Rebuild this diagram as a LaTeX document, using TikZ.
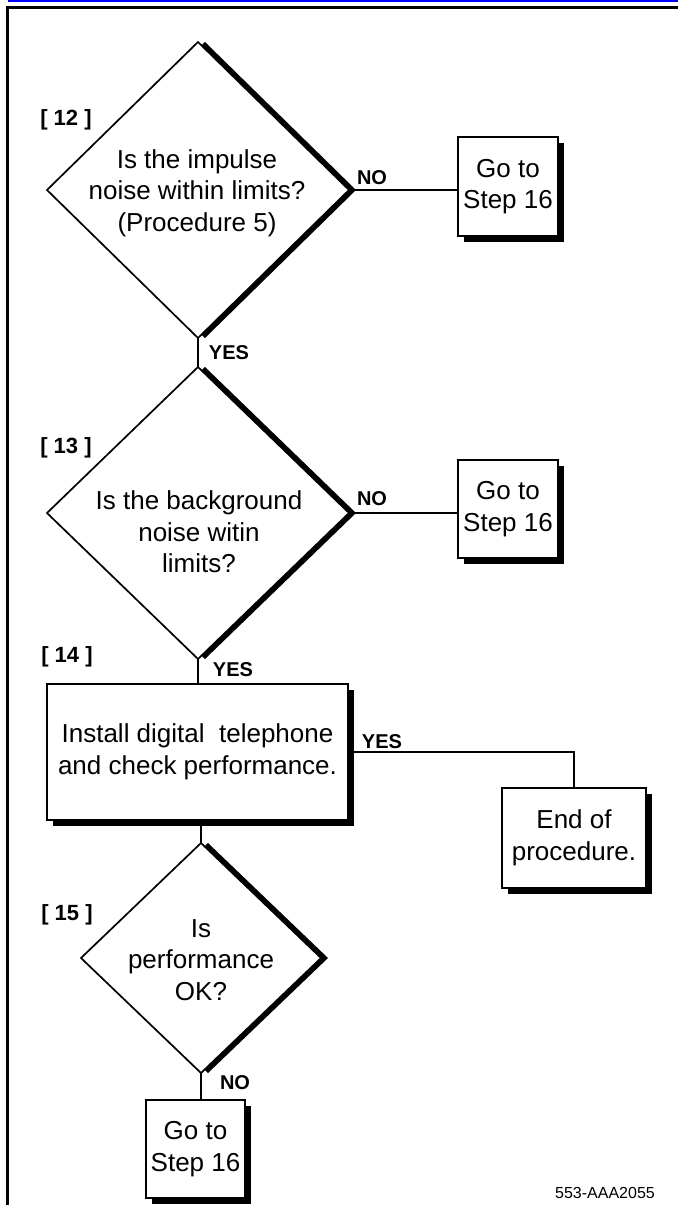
\documentclass[tikz,border=0pt]{standalone}
\usepackage{fontspec}
\setmainfont{Liberation Sans}
\usetikzlibrary{shapes.geometric,shadows}
\begin{document}
\begin{tikzpicture}[x=1pt,y=-1pt,
  every node/.style={inner sep=0pt, outer sep=0pt},
  dia/.style={shape=diamond, draw=black, line width=1.7pt, fill=white,
    drop shadow={shadow xshift=7pt, shadow yshift=0pt, fill=black, opacity=1}},
  stepbox/.style={shape=rectangle, draw=black, line width=1.7pt, fill=white,
    drop shadow={shadow xshift=6pt, shadow yshift=-6pt, fill=black, opacity=1}},
  txt/.style={font=\fontsize{26}{31.5}\selectfont, align=center},
  lab/.style={font=\fontsize{20}{24}\selectfont\bfseries},
  num/.style={font=\fontsize{22}{24}\selectfont\bfseries},
  conn/.style={line width=1.7pt}]
\useasboundingbox (0,0) rectangle (678,1228);
% frame
\fill[blue] (8,0) rectangle (678,2.5);
\fill[black] (6,6) rectangle (678,9);
\fill[black] (6,6) rectangle (9,1205);

% diamonds
\node[dia, minimum width=302pt, minimum height=296pt] (d1) at (198,190) {};
\node[dia, minimum width=302pt, minimum height=292pt] (d2) at (198,513) {};
\node[dia, minimum width=240pt, minimum height=230pt] (d4) at (201,958) {};

\node[txt] (t1) at (197,193) {Is the impulse\\noise within limits?\\(Procedure 5)};
\node[txt] (t2) at (199,532) {Is the background\\noise witin\\limits?};
\node[txt] (t4) at (201,960) {Is\\performance\\OK?};

% boxes
\node[stepbox, minimum width=100pt, minimum height=99pt, txt] (g1) at (508,186.5) {Go to\\Step 16};
\node[stepbox, minimum width=100pt, minimum height=98pt, txt] (g2) at (508,509) {Go to\\Step 16};
\node[stepbox, minimum width=301pt, minimum height=136pt, txt] (b3) at (197.5,752) {Install digital\ \ telephone\\and check performance.};
\node[stepbox, minimum width=144pt, minimum height=100pt, txt] (e) at (574,838) {End of\\procedure.};
\node[stepbox, minimum width=99pt, minimum height=98pt, txt] (g5) at (195.5,1149) {Go to\\Step 16};

% connectors
\draw[conn] (d1.east) -- (d1.east -| g1.west);
\draw[conn] (d1.south) -- (d2.north);
\draw[conn] (d2.east) -- (d2.east -| g2.west);
\draw[conn] (d2.south) -- (d2.south |- b3.north);
\draw[conn] (b3.east) -| (e.north);
\draw[conn] (b3.south -| d4.north) -- (d4.north);
\draw[conn] (d4.south) -- (d4.south |- g5.north);

% labels
\node[lab] (l1) at (372,178) {NO};
\node[lab] (l2) at (229,353) {YES};
\node[lab] (l3) at (372,499) {NO};
\node[lab] (l4) at (233,670) {YES};
\node[lab] (l5) at (382,742) {YES};
\node[lab] (l6) at (235,1083) {NO};

\node[num] (n12) at (66,120) {[ 12 ]};
\node[num] (n13) at (66,448) {[ 13 ]};
\node[num] (n14) at (67,657) {[ 14 ]};
\node[num] (n15) at (67,915) {[ 15 ]};

\node[font=\fontsize{16}{18}\selectfont] (code) at (605,1193) {553-AAA2055};
\end{tikzpicture}
\end{document}
